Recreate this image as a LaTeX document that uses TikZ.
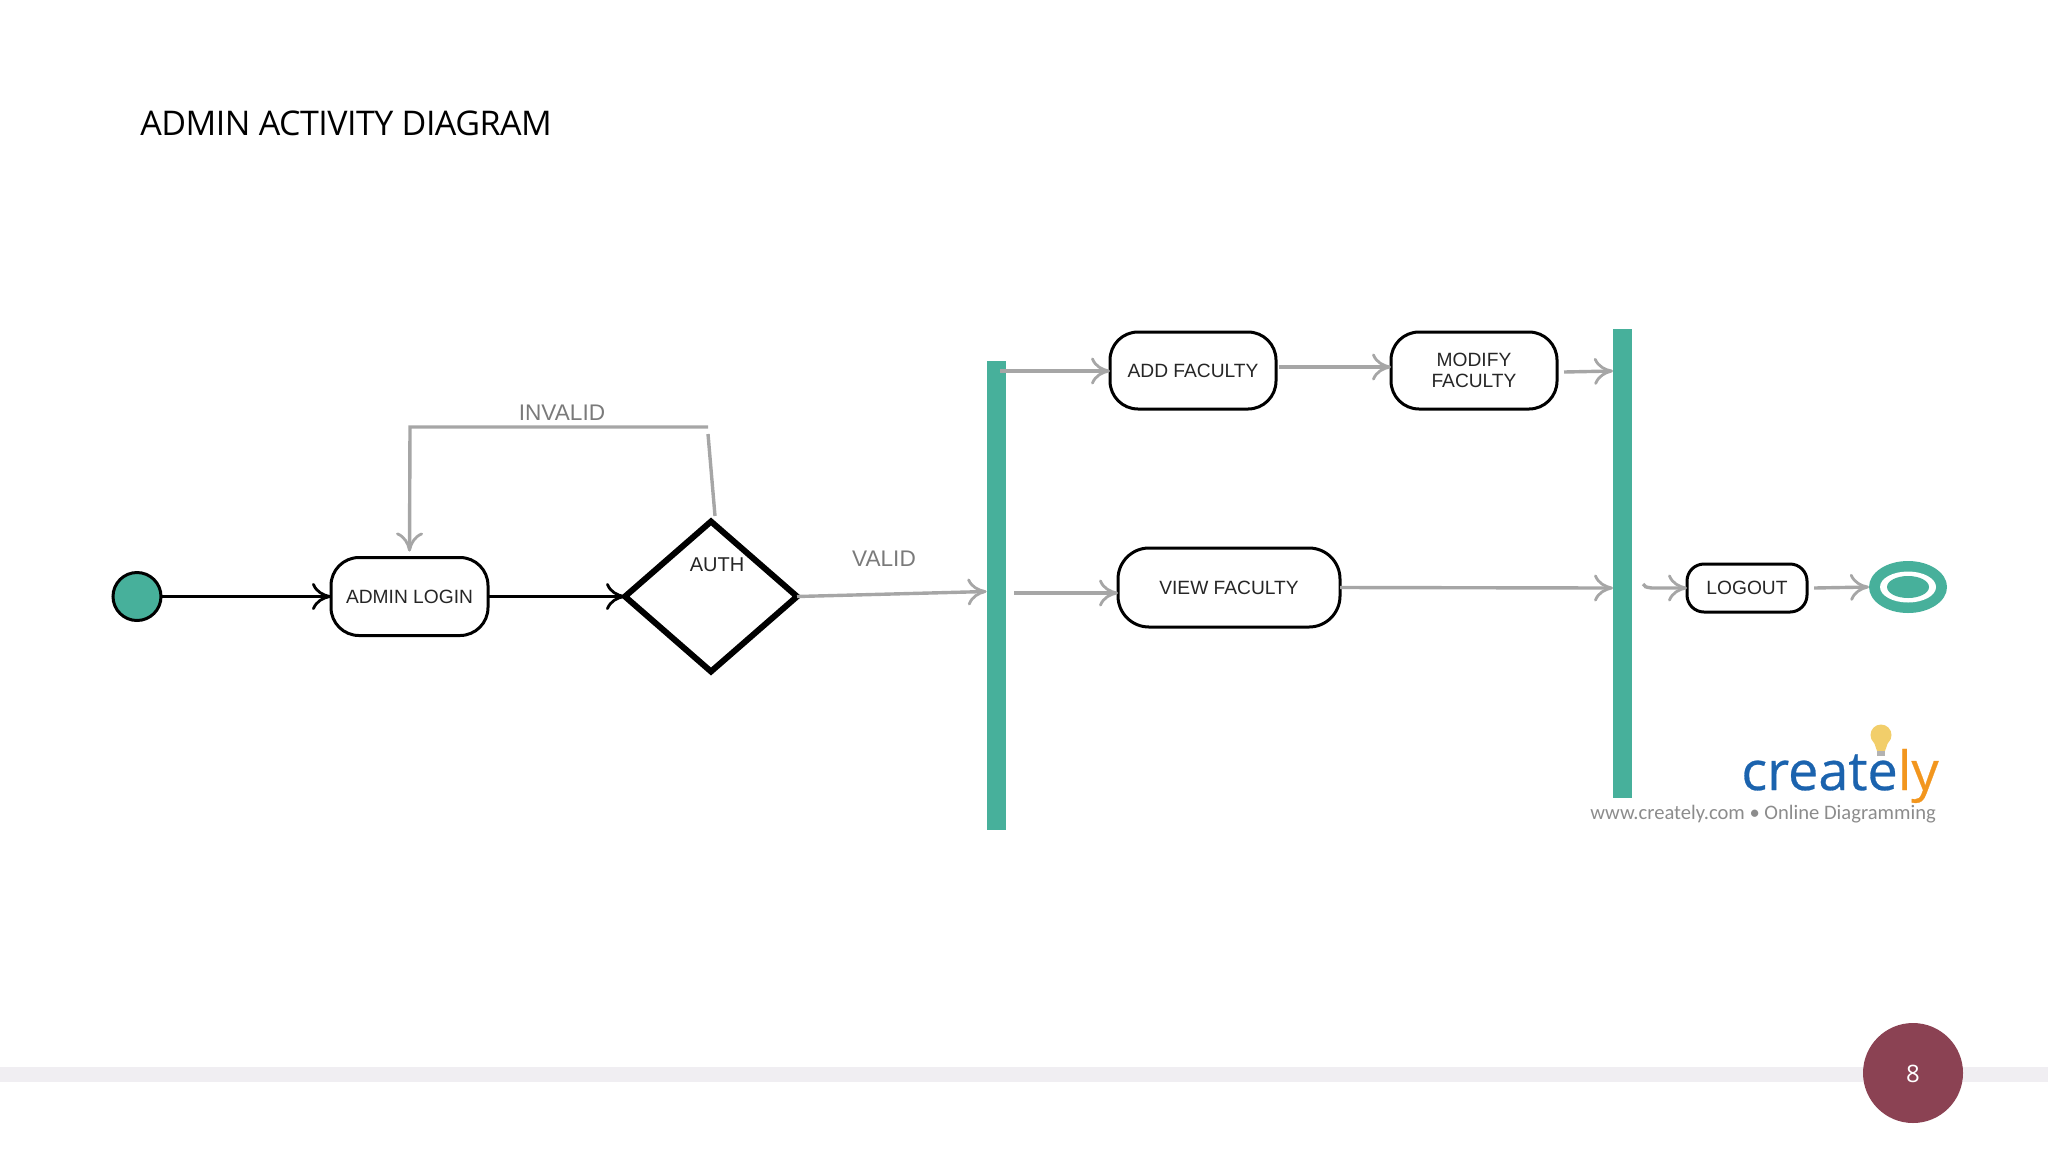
\documentclass[tikz,border=0pt]{standalone}
\usepackage{fontspec}
\setmainfont{Liberation Sans}
\newfontfamily\titlefont{Open Sans}
\newfontfamily\logofont[FakeBold=0.5]{Open Sans}
\newfontfamily\tagfont{Carlito}
\usetikzlibrary{arrows.meta,shapes.geometric}
\definecolor{teal1}{HTML}{47B09B}
\definecolor{gline}{HTML}{A6A6A6}
\definecolor{glabel}{HTML}{7A7A7A}
\definecolor{band}{HTML}{F0EEF2}
\definecolor{badge}{HTML}{8B4253}
\definecolor{logoblue}{HTML}{1B63AE}
\definecolor{logoorange}{HTML}{F2961E}
\definecolor{bulb}{HTML}{F2CE6A}
\definecolor{tagc}{HTML}{8C8C8C}
\tikzset{
  barb/.style={-{Computer Modern Rightarrow[length=9.5pt,width=13.5pt,line width=1.4pt]}},
  blackflow/.style={barb,draw=black,line width=1.5pt},
  grayflow/.style={barb,draw=gline,line width=1.7pt},
  activity/.style={draw=black,fill=white,line width=1.5pt,rounded corners=14pt,inner sep=0pt,outer sep=0pt,align=center,font=\fontsize{9.6pt}{11pt}\selectfont,text=black!85},
  syncbar/.style={fill=teal1,inner sep=0pt,outer sep=0pt,minimum width=9.5pt},
  guard/.style={text=glabel,font=\fontsize{11.3pt}{13pt}\selectfont,inner sep=0pt},
}
\begin{document}
\begin{tikzpicture}[x=0.5pt,y=-0.5pt]
\useasboundingbox (0,0) rectangle (2048,1152);
% footer
\fill[band] (0,1067) rectangle (2048,1082);
\node[circle,fill=badge,minimum size=50pt,inner sep=0pt] (page) at (1913,1073) {};
\node[text=white,font=\fontsize{12pt}{14pt}\selectfont\titlefont,inner sep=0pt] (pagenum) at (1913,1074) {8};
% title
\node[anchor=west,inner sep=0pt,font=\fontsize{17pt}{20pt}\titlefont] (title) at (140,123) {\addfontfeature{LetterSpace=-1.5}ADMIN ACTIVITY DIAGRAM};
% nodes
\node[ellipse,draw=black,line width=1.5pt,fill=teal1,minimum width=24pt,minimum height=24pt,inner sep=0pt,outer sep=0pt] (start) at (137,596.5) {};
\node[activity,minimum width=78.5pt,minimum height=39pt] (login) at (409.5,596.5) {ADMIN LOGIN};
\node[diamond,draw=black,line width=3pt,fill=white,minimum width=86pt,minimum height=75pt,aspect=1.13,inner sep=0pt,outer sep=0pt] (auth) at (711,596.5) {};
\node[inner sep=0pt,font=\fontsize{10pt}{12pt}\selectfont,text=black!85] (authlabel) at (717,565) {AUTH};
\node[syncbar,minimum height=234.5pt] (barL) at (996,595.5) {};
\node[syncbar,minimum height=234.5pt] (barR) at (1622.5,563.5) {};
\node[activity,minimum width=83pt,minimum height=38.5pt] (add) at (1193,370.5) {ADD FACULTY};
\node[activity,minimum width=83pt,minimum height=38.5pt] (modify) at (1474,370.5) {MODIFY\\[-0.4pt]FACULTY};
\node[activity,rounded corners=15.5pt,minimum width=111pt,minimum height=39.5pt] (view) at (1229,587.5) {VIEW FACULTY};
\node[activity,rounded corners=8.5pt,minimum width=60pt,minimum height=24pt] (logout) at (1747,588) {LOGOUT};
\node[ellipse,fill=teal1,minimum width=39pt,minimum height=26pt,inner sep=0pt,outer sep=0pt] (stop) at (1908,587) {};
\node[ellipse,fill=white,minimum width=28pt,minimum height=15.5pt,inner sep=0pt] (stopring) at (1908,587) {};
\node[ellipse,fill=teal1,minimum width=21pt,minimum height=11pt,inner sep=0pt] (stopin) at (1908,587) {};
% labels
\node[guard] (invalid) at (562,413) {INVALID};
\node[guard] (valid) at (884,559) {VALID};
% connectors
\draw[blackflow] (start.east) -- (login.west);
\draw[blackflow] (login.east) -- (auth.west);
\coordinate (loopA) at (708,427);
\coordinate (loopB) at (708,434);
\coordinate (loopC) at (410,427);
\coordinate (authtop) at (715,516);
\draw[gline,line width=1.7pt] (authtop) -- (loopB);
\draw[grayflow] (loopA) -- (loopC) -- ([yshift=3pt]login.north);
\draw[grayflow] (auth.east) -- ([yshift=2pt]barL.west);
\coordinate (a1) at (1000,371);
\coordinate (v1) at (1014,593);
\coordinate (m1) at (1279,367);
\coordinate (m2) at (1391,367);
\coordinate (r1) at (1564,372);
\coordinate (r2) at (1613,371);
\coordinate (r3) at (1613,588);
\coordinate (a2) at (1110,371);
\coordinate (v2) at (1118,593);
\coordinate (lo1) at (1643,584);
\coordinate (lo2) at (1652,588);
\coordinate (e1) at (1814,588);
\draw[grayflow] (a1) -- (a2);
\draw[grayflow,line width=2.2pt] (m1) -- (m2);
\draw[grayflow] (r1) -- (r2);
\draw[grayflow] (v1) -- (v2);
\draw[grayflow] (view.east) -- (r3);
\draw[grayflow] (lo1) .. controls (1645,587) .. (lo2) -- (logout.west);
\draw[grayflow] (e1) -- (stop.west);
% logo
\fill[bulb] (1881,735) circle[radius=10.5];
\fill[bulb] (1873.5,741) -- (1888.5,741) -- (1885,751) -- (1877,751) -- cycle;
\fill[gray!60] (1877,751) rectangle (1885,756);
\node[anchor=base west,inner sep=0pt,font=\fontsize{27pt}{30pt}\logofont] (logo) at (1741,790) {\textcolor{logoblue}{create}\textcolor{logoorange}{ly}};
\node[anchor=base west,inner sep=0pt,text=tagc,font=\fontsize{10.3pt}{12pt}\tagfont] (tagline) at (1590,819) {www.creately.com • Online Diagramming};
\end{tikzpicture}
\end{document}
